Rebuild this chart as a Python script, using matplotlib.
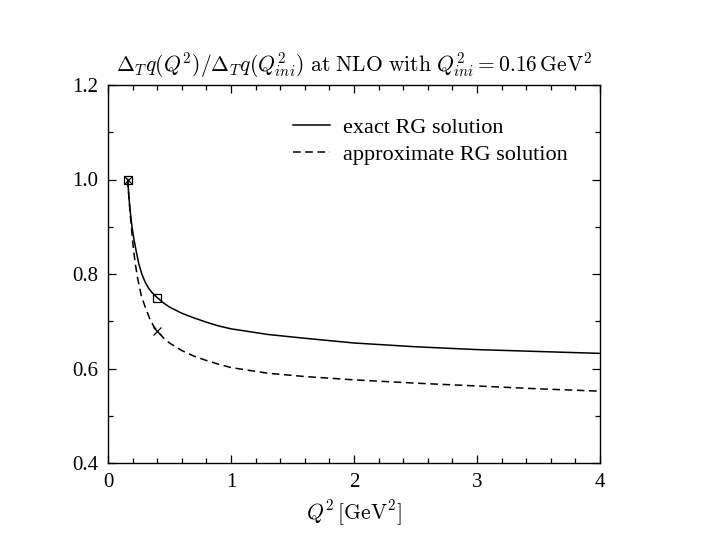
import matplotlib
matplotlib.use("Agg")
import matplotlib.pyplot as plt
from matplotlib.ticker import MultipleLocator

plt.rcParams['mathtext.fontset'] = 'cm'
plt.rcParams['font.family'] = ['Liberation Serif', 'DejaVu Serif']

# exact RG solution
q2_exact = [0.16, 0.17, 0.18, 0.195, 0.21, 0.228, 0.25, 0.275, 0.30, 0.33, 0.36, 0.40,
            0.45, 0.50, 0.60, 0.70, 0.80, 0.90, 1.00, 1.30, 1.60, 2.00, 2.50,
            3.00, 3.50, 4.00]
r_exact = [1.000, 0.962, 0.935, 0.900, 0.875, 0.850, 0.822, 0.800, 0.784, 0.770, 0.760, 0.750,
           0.739, 0.730, 0.717, 0.707, 0.698, 0.690, 0.684, 0.672, 0.664, 0.654, 0.646,
           0.640, 0.636, 0.632]

# approximate RG solution
q2_approx = [0.16, 0.17, 0.18, 0.19, 0.205, 0.22, 0.24, 0.27, 0.30, 0.34, 0.37,
             0.40, 0.45, 0.50, 0.60, 0.70, 0.80, 0.90, 1.00, 1.30, 1.60, 2.00,
             2.50, 3.00, 3.50, 4.00]
r_approx = [1.000, 0.962, 0.928, 0.900, 0.858, 0.825, 0.792, 0.755, 0.732, 0.705, 0.690,
            0.679, 0.665, 0.654, 0.638, 0.626, 0.617, 0.609, 0.602, 0.590, 0.583, 0.576,
            0.569, 0.563, 0.557, 0.552]

# marker points
q2_sq = [0.16, 0.40]
r_sq = [1.000, 0.750]
q2_x = [0.16, 0.40]
r_x = [1.000, 0.679]

xticks = [0, 1, 2, 3, 4]
yticks = [0.4, 0.6, 0.8, 1.0, 1.2]
yticklabels = ['0.4', '0.6', '0.8', '1.0', '1.2']

fig = plt.figure(figsize=(7.08, 5.45), dpi=100)
ax = fig.add_axes([108/708, 1-463/545, 492/708, 378/545])

ax.plot(q2_exact, r_exact, color='black', lw=1.1, label='exact RG solution')
ax.plot(q2_approx, r_approx, color='black', lw=1.1, linestyle=(0, (5, 3)),
        label='approximate RG solution')
ax.plot(q2_sq, r_sq, linestyle='none', marker='s', markersize=5.5,
        markerfacecolor='none', markeredgecolor='black', markeredgewidth=0.9)
ax.plot(q2_x, r_x, linestyle='none', marker='x', markersize=6,
        color='black', markeredgewidth=0.9)

ax.set_xlim(0, 4)
ax.set_ylim(0.4, 1.2)
ax.set_xticks(xticks)
ax.set_xticklabels([str(t) for t in xticks])
ax.set_yticks(yticks)
ax.set_yticklabels(yticklabels)
ax.xaxis.set_minor_locator(MultipleLocator(0.2))
ax.yaxis.set_minor_locator(MultipleLocator(0.1))
ax.tick_params(which='both', direction='in', top=True, right=True, labelsize=15,
               width=0.9, color='black')
ax.tick_params(which='major', length=6, pad=7)
ax.tick_params(which='minor', length=3.5)
for s in ax.spines.values():
    s.set_linewidth(1.0)

ax.set_xlabel(r'$Q^2\,[\mathrm{GeV}^2]$', fontsize=15.5, labelpad=5)
ax.set_title(r'$\Delta_T q(Q^2)/\Delta_T q(Q^2_{ini})\ \mathrm{at\ NLO\ with}\ Q^2_{ini}=0.16\,\mathrm{GeV}^2$',
             fontsize=15.5, pad=10)

leg = ax.legend(loc='upper left', bbox_to_anchor=(0.376, 0.915), frameon=False,
                fontsize=16, handlelength=1.66, handletextpad=0.58, labelspacing=0.3,
                borderpad=0, borderaxespad=0)

fig.savefig('out.png', dpi=100)
